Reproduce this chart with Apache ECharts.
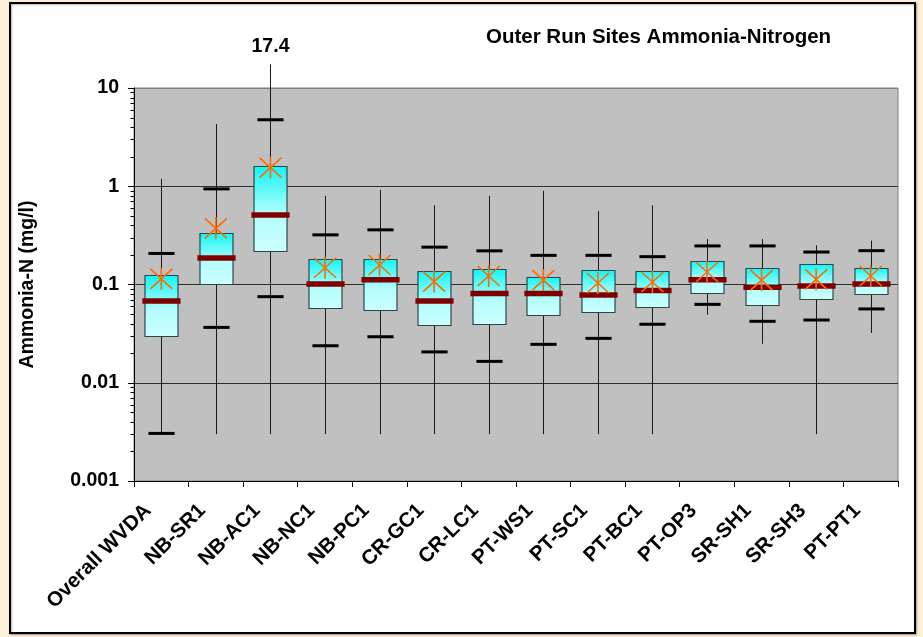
<!DOCTYPE html>
<html>
<head>
<meta charset="utf-8">
<script src="https://cdn.jsdelivr.net/npm/echarts@6/dist/echarts.min.js"></script>
<style>
  html, body { margin: 0; padding: 0; background: #fcf1d8; }
  #chart { width: 923px; height: 637px; }
</style>
</head>
<body>
<div id="chart"></div>
<script>
const categories = ['Overall WVDA', 'NB-SR1', 'NB-AC1', 'NB-NC1', 'NB-PC1', 'CR-GC1', 'CR-LC1',
  'PT-WS1', 'PT-SC1', 'PT-BC1', 'PT-OP3', 'SR-SH1', 'SR-SH3', 'PT-PT1'];

// whisker ends, percentile ticks, box (quartiles), median and mean, mg/l
const whiskerMax = [1.19, 4.3, 17.4, 0.8, 0.92, 0.64, 0.8, 0.9, 0.56, 0.64, 0.29, 0.29, 0.25, 0.28];
const upperTick  = [0.207, 0.94, 4.75, 0.32, 0.36, 0.24, 0.22, 0.198, 0.198, 0.192, 0.247, 0.247, 0.214, 0.221];
const boxTop     = [0.126, 0.334, 1.6, 0.182, 0.182, 0.137, 0.145, 0.118, 0.142, 0.136, 0.175, 0.146, 0.163, 0.146];
const median     = [0.068, 0.186, 0.51, 0.101, 0.112, 0.068, 0.081, 0.081, 0.078, 0.087, 0.112, 0.0935, 0.0966, 0.101];
const boxBottom  = [0.030, 0.1, 0.219, 0.0577, 0.055, 0.0387, 0.040, 0.048, 0.053, 0.059, 0.082, 0.0614, 0.071, 0.079];
const lowerTick  = [0.00305, 0.0366, 0.0752, 0.0238, 0.0294, 0.0206, 0.0165, 0.0246, 0.0283, 0.0394, 0.0628, 0.0422, 0.0435, 0.0564];
const whiskerMin = [0.003, 0.003, 0.003, 0.003, 0.003, 0.003, 0.003, 0.003, 0.003, 0.003, 0.0493, 0.0249, 0.003, 0.0321];
const mean       = [0.114, 0.373, 1.55, 0.148, 0.158, 0.107, 0.122, 0.111, 0.1035, 0.106, 0.134, 0.111, 0.113, 0.122];

const yMin = 0.001;
const yMax = 10;
const minorTicks = [];
for (let d = yMin; d < yMax; d *= 10) {
  for (let k = 2; k <= 9; k++) minorTicks.push(+(k * d).toPrecision(2));
}

const font = "'Liberation Sans', Arial, sans-serif";
const chart = echarts.init(document.getElementById('chart'));

const rows = categories.map((c, i) => [i, whiskerMin[i], lowerTick[i], boxBottom[i], median[i],
  boxTop[i], upperTick[i], whiskerMax[i], mean[i]]);

const px = v => Math.round(v) + 0.5;

function renderBox(params, api) {
  const i = api.value(0);
  const xc = px(api.coord([i, 1])[0]);
  const band = api.size([1, 0])[0];
  const y = v => api.coord([i, v])[1];
  const boxW = band * 0.6, medW = band * 0.7, tickW = band * 0.48;
  const yTop = y(api.value(5)), yBot = y(api.value(3));
  const yMaxW = y(api.value(7));
  const kids = [
    { type: 'line', shape: { x1: xc, y1: yMaxW, x2: xc, y2: y(api.value(1)) },
      style: { stroke: '#1a1a1a', lineWidth: 1 } },
    { type: 'rect', shape: { x: Math.round(xc - boxW / 2), y: Math.round(yTop) + 0.5, width: Math.round(boxW), height: Math.round(yBot - yTop) },
      style: {
        fill: new echarts.graphic.LinearGradient(0, 0, 0, 1, [
          { offset: 0, color: '#0ff5f5' },
          { offset: 0.55, color: '#b2fdfd' },
          { offset: 1, color: '#ccffff' }
        ]),
        stroke: '#2b4848', lineWidth: 1.2
      } },
    { type: 'line', shape: { x1: xc - tickW / 2, y1: y(api.value(6)), x2: xc + tickW / 2, y2: y(api.value(6)) },
      style: { stroke: '#000', lineWidth: 3 } },
    { type: 'line', shape: { x1: xc - tickW / 2, y1: y(api.value(2)), x2: xc + tickW / 2, y2: y(api.value(2)) },
      style: { stroke: '#000', lineWidth: 3 } },
    { type: 'line', shape: { x1: xc - medW / 2, y1: y(api.value(4)), x2: xc + medW / 2, y2: y(api.value(4)) },
      style: { stroke: '#800000', lineWidth: 5.5 } }
  ];
  // value printed when the whisker runs above the axis
  if (api.value(7) > yMax) {
    kids.push({ type: 'text', x: xc, y: yMaxW - 8,
      style: { text: String(api.value(7)), font: 'bold 19.5px ' + font, fill: '#000',
        align: 'center', verticalAlign: 'bottom' } });
  }
  return { type: 'group', children: kids };
}

function renderMean(params, api) {
  const [x, y] = api.coord([api.value(0), api.value(8)]);
  const s = { stroke: '#ff6a00', lineWidth: 1.6 };
  return { type: 'group', children: [
    { type: 'line', shape: { x1: x, y1: y - 11, x2: x, y2: y + 11 }, style: s },
    { type: 'line', shape: { x1: x - 11, y1: y - 10, x2: x + 11, y2: y + 10 }, style: s },
    { type: 'line', shape: { x1: x - 11, y1: y + 10, x2: x + 11, y2: y - 10 }, style: s }
  ] };
}

function renderMinor(params, api) {
  const p = api.coord([0, api.value(0)]);
  const x = Math.round(p[0] - api.size([1, 0])[0] / 2) + 0.5;
  const y = Math.round(p[1]) + 0.5;
  return { type: 'line', shape: { x1: x - 4, y1: y, x2: x, y2: y }, style: { stroke: '#000', lineWidth: 1 } };
}

chart.setOption({
  backgroundColor: '#fcf1d8',
  animation: false,
  graphic: [{
    type: 'rect', z: -100, shape: { x: 10, y: 3, width: 905, height: 630 },
    style: { fill: '#fff', stroke: '#000', lineWidth: 2, shadowColor: 'rgba(0,0,0,0.3)', shadowBlur: 2, shadowOffsetX: 1, shadowOffsetY: 1 }
  }],
  title: {
    text: 'Outer Run Sites Ammonia-Nitrogen',
    left: 486, top: 27, padding: 0,
    textStyle: { fontFamily: font, fontSize: 20.5, fontWeight: 'bold', color: '#000' }
  },
  grid: {
    left: 134, right: 25, top: 88, bottom: 156,
    show: true, backgroundColor: '#c0c0c0', borderColor: '#808080', borderWidth: 1
  },
  xAxis: {
    type: 'category', data: categories, boundaryGap: true,
    axisLine: { lineStyle: { color: '#000', width: 1 } },
    axisTick: { show: true, interval: 0, length: 6, lineStyle: { color: '#000' } },
    axisLabel: { interval: 0, rotate: 45, margin: 13, padding: [0, 19, 0, 0],
      fontFamily: font, fontSize: 20.5, fontWeight: 'bold', color: '#000' },
    splitLine: { show: false }
  },
  yAxis: {
    type: 'log', logBase: 10, min: yMin, max: yMax,
    name: 'Ammonia-N (mg/l)', nameLocation: 'middle', nameGap: 96,
    nameTextStyle: { fontFamily: font, fontSize: 19.5, fontWeight: 'bold', color: '#000' },
    axisLine: { show: true, lineStyle: { color: '#000', width: 1 } },
    axisTick: { show: true, length: 6, lineStyle: { color: '#000' } },
    axisLabel: { margin: 15, fontFamily: font, fontSize: 19.5, fontWeight: 'bold', color: '#000',
      formatter: v => String(parseFloat(v.toPrecision(3))) },
    splitLine: { show: true, lineStyle: { color: ['#000', '#2e2e2e', '#2e2e2e', '#2e2e2e', '#808080'], width: 1 } }
  },
  series: [
    { type: 'custom', renderItem: renderMinor, data: minorTicks.map(v => [v]),
      encode: { y: 0 }, silent: true, z: 3 },
    { type: 'custom', renderItem: renderBox, data: rows,
      encode: { x: 0, y: [1, 2, 3, 4, 5, 6, 7] }, clip: false, silent: true, z: 4 },
    { type: 'custom', renderItem: renderMean, data: rows,
      encode: { x: 0, y: 8 }, clip: false, silent: true, z: 5 }
  ]
});
</script>
</body>
</html>
